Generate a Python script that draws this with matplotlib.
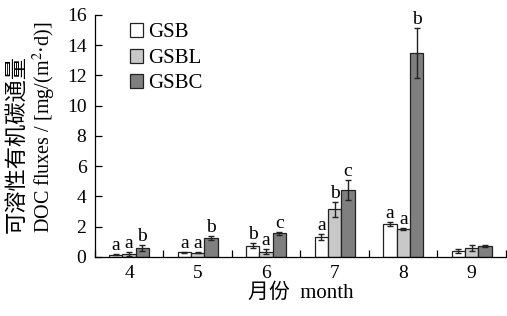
import matplotlib
matplotlib.use("Agg")
import matplotlib.pyplot as plt
import numpy as np

months = ["4", "5", "6", "7", "8", "9"]
series = ["GSB", "GSBL", "GSBC"]
gsb = [0.15, 0.30, 0.75, 1.32, 2.18, 0.40]
gsbl = [0.20, 0.28, 0.35, 3.15, 1.86, 0.60]
gsbc = [0.62, 1.25, 1.55, 4.42, 13.50, 0.72]
gsb_err = [0.05, 0.05, 0.15, 0.22, 0.15, 0.15]
gsbl_err = [0.15, 0.05, 0.15, 0.50, 0.05, 0.20]
gsbc_err = [0.20, 0.10, 0.07, 0.65, 1.65, 0.08]
gsb_lab = ["a", "a", "b", "a", "a", ""]
gsbl_lab = ["a", "a", "a", "b", "a", ""]
gsbc_lab = ["b", "b", "c", "c", "b", ""]
colors = ["white", "#c8c8c8", "#7f7f7f"]

plt.rcParams['font.family'] = ['Liberation Serif', 'Noto Sans CJK SC', 'DejaVu Sans']
plt.rcParams['mathtext.fontset'] = 'stix'

fig = plt.figure(figsize=(5.07, 3.16), dpi=100)
ax = fig.add_axes([0.187, 0.187, 0.811, 0.766])

x = np.arange(len(months))
w = 0.195
vals = [gsb, gsbl, gsbc]
errs = [gsb_err, gsbl_err, gsbc_err]
labs = [gsb_lab, gsbl_lab, gsbc_lab]
for i in range(3):
    xi = x + (i - 1) * w
    ax.bar(xi, vals[i], width=w, color=colors[i], edgecolor="#222222", linewidth=0.9,
           label=series[i], zorder=2)
    ax.errorbar(xi, vals[i], yerr=errs[i], fmt="none", ecolor="#222222", elinewidth=1.0,
                capsize=2.5, capthick=1.0, zorder=3)
    for xx, v, e, t in zip(xi, vals[i], errs[i], labs[i]):
        if t:
            ax.text(xx, v + e + 0.0, t, ha="center", va="bottom", fontsize=14)

ax.set_xlim(-0.5, len(months) - 0.5)
ax.set_ylim(0, 16)
ax.set_yticks(np.arange(0, 17, 2))
ax.set_xticks(x)
ax.set_xticklabels(months)
ax.set_xticks(np.arange(-0.5, len(months), 1.0), minor=True)
ax.tick_params(axis="x", which="major", length=0, labelsize=14, pad=6)
ax.tick_params(axis="x", which="minor", direction="in", length=5, width=0.9)
ax.tick_params(axis="y", direction="in", length=5, width=0.9, labelsize=14, pad=6)
for s in ["top", "right"]:
    ax.spines[s].set_visible(False)
ax.spines["left"].set_linewidth(0.9)
ax.spines["bottom"].set_linewidth(0.9)

fig.text(0.036, 1 - 233 / 316, "可溶性有机碳通量", rotation=90, ha="center", va="bottom",
         fontsize=16)
fig.text(0.087, 1 - 233 / 316, "DOC fluxes / [mg/(m$^{2}$·d)]", rotation=90, ha="center",
         va="bottom", fontsize=14.5)
ax.set_xlabel("月份  month", fontsize=15, labelpad=1)

leg = ax.legend(loc="upper left", bbox_to_anchor=(0.075, 0.983), frameon=False, fontsize=15,
                handlelength=0.65, handleheight=0.65, handletextpad=0.25, labelspacing=0.3,
                borderpad=0.2, borderaxespad=0)

fig.savefig("out.png", dpi=100)
